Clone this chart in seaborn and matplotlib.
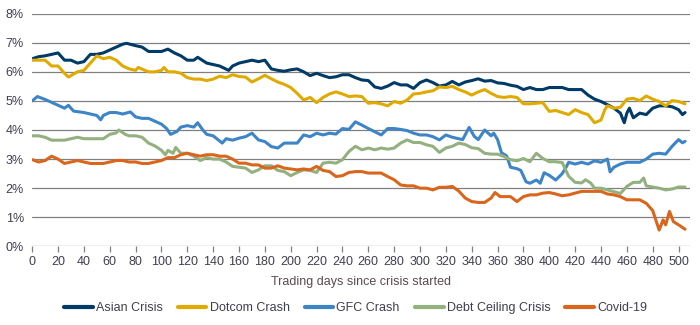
import numpy as np
import pandas as pd
import matplotlib
matplotlib.use("Agg")
import matplotlib.pyplot as plt
from matplotlib.ticker import FuncFormatter, MultipleLocator
import seaborn as sns

# Yield paths (%) by trading day since the start of each crisis
asian_days = [0, 5, 10, 15, 20, 25, 30, 35, 40, 45, 50, 55, 60, 65, 70, 73, 80, 85, 90, 95, 100, 105,
              110, 115, 120, 125, 128, 135, 140, 145, 152, 155, 160, 165, 170, 175, 180, 185, 190, 195,
              200, 205, 210, 215, 220, 225, 230, 235, 240, 245, 250, 255, 260, 265, 270, 275, 280, 285,
              290, 295, 300, 305, 310, 315, 320, 325, 330, 335, 340, 345, 350, 355, 360, 365, 370, 375,
              380, 385, 390, 395, 400, 405, 410, 415, 420, 425, 430, 435, 440, 445, 450, 455, 458, 460,
              462, 465, 470, 475, 480, 485, 490, 495, 500, 503, 505]
asian_pct = [6.45, 6.52, 6.55, 6.6, 6.65, 6.4, 6.4, 6.3, 6.35, 6.6, 6.6, 6.65, 6.75, 6.85, 6.95, 6.98,
             6.9, 6.85, 6.7, 6.7, 6.7, 6.78, 6.65, 6.55, 6.4, 6.4, 6.5, 6.3, 6.25, 6.2, 6.05, 6.2, 6.3,
             6.35, 6.4, 6.35, 6.4, 6.1, 6.05, 6.02, 6.07, 6.1, 6.0, 5.87, 5.95, 5.87, 5.8, 5.83, 5.9, 5.9,
             5.8, 5.72, 5.7, 5.48, 5.43, 5.51, 5.63, 5.55, 5.55, 5.43, 5.63, 5.72, 5.63, 5.51, 5.55, 5.67,
             5.55, 5.65, 5.7, 5.76, 5.68, 5.7, 5.62, 5.6, 5.54, 5.5, 5.39, 5.46, 5.39, 5.39, 5.46, 5.46,
             5.46, 5.39, 5.39, 5.39, 5.2, 5.06, 4.98, 4.87, 4.75, 4.58, 4.25, 4.58, 4.75, 4.42, 4.58,
             4.53, 4.75, 4.83, 4.83, 4.8, 4.7, 4.53, 4.6]

dotcom_days = [0, 5, 10, 15, 20, 25, 28, 35, 40, 45, 50, 55, 60, 65, 70, 75, 80, 82, 90, 95, 100, 102,
               105, 110, 115, 120, 125, 130, 135, 140, 145, 150, 155, 160, 165, 170, 175, 180, 185, 190,
               195, 200, 205, 210, 215, 220, 225, 230, 235, 240, 245, 250, 255, 260, 265, 270, 275, 280,
               285, 290, 295, 300, 305, 310, 315, 320, 325, 330, 335, 340, 345, 350, 355, 360, 365, 370,
               375, 380, 385, 390, 395, 400, 405, 410, 415, 420, 425, 430, 435, 440, 443, 445, 450, 455,
               460, 465, 470, 475, 480, 485, 490, 495, 500, 505]
dotcom_pct = [6.4, 6.4, 6.4, 6.2, 6.2, 5.95, 5.82, 6.0, 6.05, 6.3, 6.55, 6.45, 6.5, 6.4, 6.2, 6.1, 6.05,
              6.15, 6.0, 6.0, 6.05, 6.15, 6.0, 6.0, 5.95, 5.8, 5.75, 5.75, 5.7, 5.75, 5.85, 5.8, 5.9, 5.84,
              5.82, 5.65, 5.76, 5.88, 5.76, 5.65, 5.57, 5.46, 5.26, 5.03, 5.12, 4.94, 5.12, 5.24, 5.31,
              5.24, 5.15, 5.17, 5.15, 4.92, 4.94, 4.9, 4.83, 4.98, 4.92, 5.03, 5.24, 5.26, 5.31, 5.35,
              5.48, 5.46, 5.5, 5.39, 5.31, 5.2, 5.31, 5.39, 5.26, 5.15, 5.12, 5.15, 5.12, 4.9, 4.9, 4.92,
              4.94, 4.64, 4.67, 4.6, 4.53, 4.7, 4.6, 4.53, 4.25, 4.34, 4.7, 4.83, 4.75, 4.78, 5.06, 5.09,
              5.01, 5.17, 5.06, 4.98, 4.83, 5.01, 4.98, 4.9]

gfc_days = [0, 4, 10, 15, 20, 25, 28, 32, 40, 45, 50, 53, 55, 60, 65, 70, 76, 80, 85, 90, 95, 100, 104,
            107, 112, 115, 120, 125, 128, 132, 135, 140, 147, 150, 155, 160, 165, 170, 175, 180, 185, 190,
            195, 200, 205, 210, 215, 220, 225, 230, 235, 240, 245, 250, 255, 260, 265, 270, 275, 280, 285,
            290, 295, 300, 305, 310, 315, 320, 325, 330, 333, 338, 342, 345, 350, 355, 357, 360, 363, 367,
            370, 375, 378, 382, 385, 390, 393, 396, 400, 405, 410, 413, 415, 420, 425, 430, 435, 440, 445,
            447, 450, 455, 460, 465, 470, 475, 480, 485, 490, 495, 500, 503, 505]
gfc_pct = [5.0, 5.15, 5.05, 4.95, 4.85, 4.75, 4.85, 4.65, 4.6, 4.55, 4.5, 4.35, 4.5, 4.6, 4.6, 4.55, 4.62,
           4.45, 4.4, 4.4, 4.3, 4.2, 4.05, 3.85, 3.95, 4.1, 4.15, 4.1, 4.25, 4.0, 3.85, 3.8, 3.55, 3.7,
           3.65, 3.72, 3.77, 3.89, 3.66, 3.6, 3.43, 3.38, 3.55, 3.55, 3.55, 3.83, 3.77, 3.89, 3.83, 3.89,
           3.86, 4.05, 4.02, 4.28, 4.17, 4.05, 3.94, 3.83, 4.05, 4.05, 4.02, 3.98, 3.89, 3.83, 3.83, 3.77,
           3.66, 3.83, 3.75, 3.7, 3.67, 4.09, 3.78, 3.67, 4.0, 3.8, 3.89, 3.67, 3.22, 3.11, 2.72, 2.67,
           2.61, 2.22, 2.17, 2.28, 2.17, 2.53, 2.44, 2.28, 2.5, 2.72, 2.89, 2.83, 2.89, 2.83, 2.94, 2.89,
           3.0, 2.56, 2.72, 2.83, 2.89, 2.89, 2.89, 3.0, 3.17, 3.2, 3.17, 3.44, 3.67, 3.56, 3.61]

debt_days = [0, 5, 10, 15, 20, 25, 30, 35, 40, 45, 50, 55, 60, 65, 67, 72, 75, 80, 85, 90, 95, 100, 103,
             105, 109, 111, 115, 120, 125, 130, 135, 140, 145, 150, 155, 160, 165, 170, 175, 180, 185, 190,
             195, 200, 205, 210, 215, 220, 225, 230, 235, 240, 245, 250, 255, 260, 265, 270, 275, 280, 285,
             290, 295, 300, 305, 310, 315, 320, 325, 330, 335, 340, 345, 350, 355, 360, 365, 370, 375, 380,
             385, 390, 395, 400, 405, 410, 415, 420, 425, 428, 432, 435, 440, 445, 450, 455, 460, 465, 470,
             473, 475, 480, 485, 490, 495, 500, 505]
debt_pct = [3.8, 3.8, 3.75, 3.65, 3.65, 3.65, 3.7, 3.75, 3.7, 3.7, 3.7, 3.7, 3.85, 3.9, 4.0, 3.85, 3.8,
            3.8, 3.75, 3.55, 3.45, 3.3, 3.15, 3.3, 3.2, 3.4, 3.2, 3.2, 3.1, 2.95, 3.05, 3.0, 3.0, 2.9,
            2.75, 2.72, 2.69, 2.54, 2.63, 2.77, 2.77, 2.61, 2.57, 2.43, 2.54, 2.63, 2.61, 2.54, 2.86, 2.89,
            2.86, 2.98, 3.26, 3.44, 3.32, 3.38, 3.32, 3.38, 3.34, 3.38, 3.55, 3.66, 3.57, 3.57, 3.49, 3.44,
            3.23, 3.38, 3.44, 3.55, 3.5, 3.39, 3.36, 3.2, 3.17, 3.17, 3.09, 2.98, 2.94, 3.02, 2.91, 3.2,
            3.02, 2.91, 2.91, 2.88, 2.41, 2.2, 2.18, 2.29, 2.18, 2.0, 2.0, 1.94, 1.88, 1.82, 2.06, 2.2,
            2.2, 2.35, 2.08, 2.04, 2.0, 1.94, 1.97, 2.04, 2.04]

covid_days = [0, 5, 10, 15, 20, 25, 30, 35, 40, 45, 50, 55, 60, 65, 70, 75, 80, 85, 90, 95, 100, 105, 110,
              115, 120, 125, 130, 135, 140, 145, 150, 155, 160, 165, 170, 175, 180, 185, 190, 195, 200, 205,
              210, 215, 220, 225, 230, 235, 240, 245, 250, 255, 260, 265, 270, 275, 280, 285, 290, 295, 300,
              305, 310, 315, 320, 325, 330, 335, 340, 345, 350, 355, 358, 362, 365, 370, 375, 380, 385, 390,
              395, 400, 405, 410, 415, 420, 425, 430, 435, 440, 445, 450, 455, 460, 465, 470, 475, 480, 485,
              488, 490, 493, 496, 500, 505]
covid_pct = [2.98, 2.9, 2.95, 3.1, 3.0, 2.85, 2.9, 2.95, 2.9, 2.85, 2.85, 2.85, 2.9, 2.95, 2.95, 2.9, 2.9,
             2.85, 2.85, 2.9, 2.95, 3.05, 3.05, 3.15, 3.2, 3.15, 3.1, 3.15, 3.15, 3.1, 3.1, 3.0, 2.86,
             2.86, 2.8, 2.8, 2.69, 2.69, 2.77, 2.69, 2.66, 2.63, 2.66, 2.63, 2.75, 2.61, 2.57, 2.4, 2.43,
             2.54, 2.57, 2.57, 2.52, 2.52, 2.52, 2.4, 2.29, 2.11, 2.08, 2.08, 2.0, 2.0, 1.94, 2.03, 2.03,
             2.06, 1.9, 1.66, 1.54, 1.51, 1.51, 1.66, 1.85, 1.71, 1.71, 1.71, 1.54, 1.71, 1.77, 1.77, 1.83,
             1.85, 1.8, 1.74, 1.77, 1.83, 1.89, 1.89, 1.89, 1.89, 1.8, 1.77, 1.71, 1.6, 1.6, 1.6, 1.48,
             1.23, 0.56, 0.91, 0.74, 1.2, 0.85, 0.74, 0.59]

series_names = ["Asian Crisis", "Dotcom Crash", "GFC Crash", "Debt Ceiling Crisis", "Covid-19"]
series_colors = ["#003a66", "#e0aa00", "#3d85c6", "#93b07f", "#d9661c"]
x_ticks = list(range(0, 501, 20))
x_label = "Trading days since crisis started"

frames = []
for name, d, v in zip(series_names,
                      [asian_days, dotcom_days, gfc_days, debt_days, covid_days],
                      [asian_pct, dotcom_pct, gfc_pct, debt_pct, covid_pct]):
    frames.append(pd.DataFrame({"day": d, "yield": v, "series": name}))
df = pd.concat(frames, ignore_index=True)

sns.set_theme(style="white")
plt.rcParams["font.family"] = ["Liberation Sans", "DejaVu Sans"]

text_col = "#3f3f4f"
grid_col = "#808080"

fig = plt.figure(figsize=(7, 3.25), dpi=100)
ax = fig.add_axes([0.046, 0.242, 0.94, 0.716])

sns.lineplot(data=df, x="day", y="yield", hue="series", hue_order=series_names,
             palette=series_colors, linewidth=2.2, ax=ax, sort=True, estimator=None)

ax.set_xlim(0, 509)
ax.set_ylim(0, 8)
ax.yaxis.set_major_locator(MultipleLocator(1))
ax.yaxis.set_major_formatter(FuncFormatter(lambda v, _: f"{v:.0f}%"))
ax.set_xticks(x_ticks)
ax.grid(axis="y", color=grid_col, linewidth=0.9)
ax.grid(axis="x", visible=False)
ax.set_axisbelow(True)
for s in ax.spines.values():
    s.set_visible(False)

ax.tick_params(axis="x", which="major", direction="out", length=4, width=0.9,
               color=grid_col, labelsize=9, labelcolor=text_col, pad=3, bottom=True)
ax.tick_params(axis="y", length=0, labelsize=9, labelcolor=text_col, pad=6)
ax.set_xlabel(x_label, fontsize=9, color="#5a4a50", labelpad=6)
ax.set_ylabel("")

handles, labels = ax.get_legend_handles_labels()
ax.get_legend().remove()
leg = fig.legend(handles, labels, loc="center", bbox_to_anchor=(0.508, 0.052), ncol=5,
                 frameon=False, fontsize=9, handlelength=2.3, handletextpad=0.25,
                 columnspacing=1.2, labelcolor=text_col)
for line in leg.get_lines():
    line.set_linewidth(3)

fig.savefig("out.png", dpi=100)
